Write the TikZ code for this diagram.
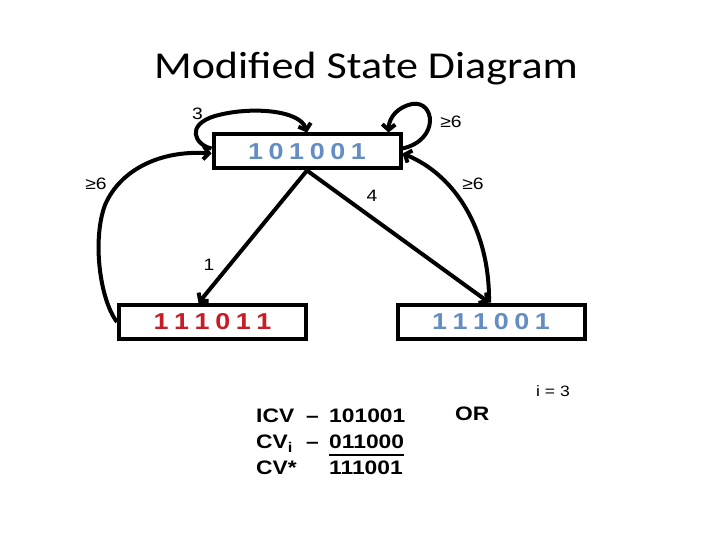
\documentclass[tikz,border=0pt]{standalone}
\usepackage{fontspec}
\setmainfont{Liberation Sans}[FakeStretch=1.17]
\newfontfamily\titlefont{Carlito}[FakeStretch=1.16]
\usetikzlibrary{arrows.meta}
\definecolor{digblue}{RGB}{100,141,196}
\definecolor{digred}{RGB}{200,28,38}
\newcommand\dgap{\hspace{5.6pt}}
\begin{document}
\begin{tikzpicture}[x=1pt,y=-1pt,
  statebox/.style={draw,line width=4pt,minimum width=187pt,minimum height=34pt,inner sep=0pt,
    font=\bfseries\fontsize{23}{26}\selectfont},
  conn/.style={line width=4pt,-{Straight Barb[length=5.5pt,width=13pt]}},
  lab/.style={inner sep=0pt,anchor=base,font=\fontsize{16.5}{19}\selectfont},
  txt/.style={inner sep=0pt,anchor=base west,font=\bfseries\fontsize{19.5}{23}\selectfont}]
\useasboundingbox[fill=white] (0,0) rectangle (720,540);

% title
\node[inner sep=0pt,anchor=base,font=\titlefont\fontsize{38}{44}\selectfont] (title) at (366,79) {Modified State Diagram};

% states
\node[statebox,text=digblue] (top) at (307,151.5) {1\dgap0\dgap1\dgap0\dgap0\dgap1};
\node[statebox,text=digred] (left) at (212.5,322) {1\dgap1\dgap1\dgap0\dgap1\dgap1};
\node[statebox,text=digblue] (right) at (491,321.5) {1\dgap1\dgap1\dgap0\dgap0\dgap1};

% self loop 3
\draw[conn] ([yshift=3pt]top.west) .. controls (195,145) and (185,125) .. (215,116)
  .. controls (250,106) and (300,110) .. (top.north);
% self loop >=6
\draw[conn] ([yshift=3pt]top.east) .. controls (440,140) and (435,100) .. (412,104)
  .. controls (398,107) and (389,117) .. ([xshift=-14pt]top.north east);
% left >=6 curve
\draw[conn] (left.west) .. controls (100,300) and (92,240) .. (105,205)
  .. controls (120,170) and (160,150) .. ([yshift=-2pt]top.west);
% right >=6 curve
\draw[conn] ([xshift=-2pt]right.north) .. controls (490,230) and (455,175) .. ([yshift=-2pt]top.east);
% diagonals
\draw[conn] (top.south) -- ([xshift=-14pt]left.north);
\draw[conn] (top.south) -- ([xshift=-2pt]right.north);

% labels
\node[lab] (l3) at (197.5,120) {3};
\node[lab] (l6a) at (451,128) {≥6};
\node[lab] (l6b) at (96,190) {≥6};
\node[lab] (l4) at (372,202) {4};
\node[lab] (l6c) at (473,190) {≥6};
\node[lab] (l1) at (209,270) {1};

% bottom text
\node[txt] (icv) at (256,422) {ICV};
\node[txt] (dash1) at (306,422) {–};
\node[txt] (v1) at (329,422) {101001};
\node[txt] (cvi) at (256,448.5) {CV\raisebox{-4pt}{\fontsize{14}{14}\selectfont i}};
\node[txt] (dash2) at (306,448.5) {–};
\node[txt] (v2) at (329,448.5) {011000};
\draw[line width=2pt] ([yshift=-6.5pt]v2.base west) -- ([yshift=-6.5pt]v2.base east);
\node[txt] (cvs) at (256,474.5) {CV*};
\node[txt] (v3) at (329,474.5) {111001};
\node[txt] (or) at (455,420) {OR};
\node[inner sep=0pt,anchor=base west,font=\fontsize{15}{18}\selectfont] (ieq) at (536,396.5) {i = 3};
\end{tikzpicture}
\end{document}
